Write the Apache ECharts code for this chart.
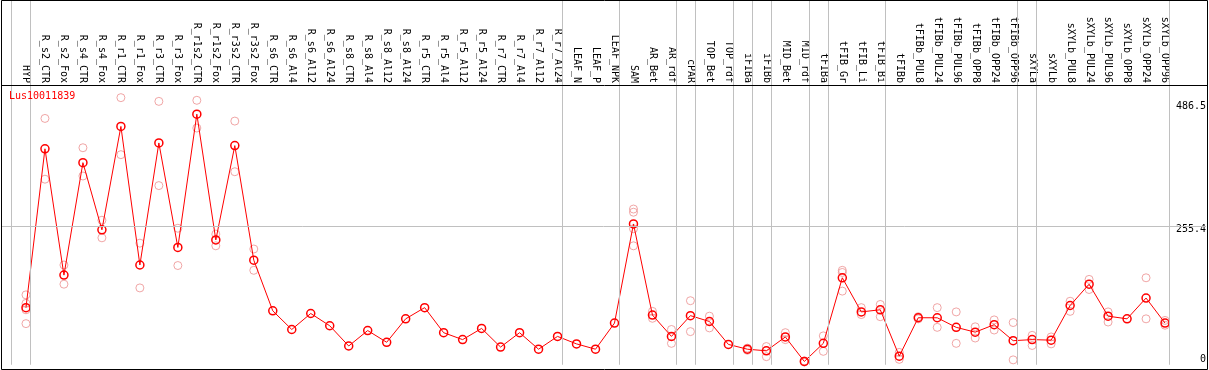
<!DOCTYPE html>
<html><head><meta charset="utf-8">
<script src="https://cdn.jsdelivr.net/npm/echarts@6/dist/echarts.min.js"></script>
<style>html,body{margin:0;padding:0;background:#fff}#c{width:1209px;height:370px}</style>
</head><body><div id="c"></div>
<script>
const geneName = 'Lus10011839';
const categories = ['HYP','R_s2_CTR','R_s2_Fox','R_s4_CTR','R_s4_Fox','R_r1_CTR','R_r1_Fox','R_r3_CTR','R_r3_Fox','R_r1s2_CTR','R_r1s2_Fox','R_r3s2_CTR','R_r3s2_Fox','R_s6_CTR','R_s6_Al4','R_s6_Al12','R_s6_Al24','R_s8_CTR','R_s8_Al4','R_s8_Al12','R_s8_Al24','R_r5_CTR','R_r5_Al4','R_r5_Al12','R_r5_Al24','R_r7_CTR','R_r7_Al4','R_r7_Al12','R_r7_Al24','LEAF_N','LEAF_P','LEAF_NPK','SAM','AR_Bet','AR_rdf','cPAR','TOP_Bet','TOP_rdf','iFIBa','iFIBb','MID_Bet','MID_rdf','tFIBa','tFIB_Gr','tFIB_Li','tFIB_Bi','tFIBb','tFIBb_PUL8','tFIBb_PUL24','tFIBb_PUL96','tFIBb_OPP8','tFIBb_OPP24','tFIBb_OPP96','sXYLa','sXYLb','sXYLb_PUL8','sXYLb_PUL24','sXYLb_PUL96','sXYLb_OPP8','sXYLb_OPP24','sXYLb_OPP96'];
const means = [102,400,163,374,248,442,182,411,215,465,229,406,191,96,61,91,68,30,59,37,81,102,55,42,63,28,55,24,48,34,24,73,259,88,48,87,76,33,24,21,47,1,35,158,94,98,11,83,83,65,56,70,40,42,41,106,146,86,81,120,73];
const replicates = [[126,110,98,72],[457,343],[182,146],[402,349],[266,233],[496,389],[223,139],[489,331],[251,181],[491,439],[240,218],[452,357],[212,172],
 [],[],[],[],[],[],[],[],[],[],[],[],[],[],[],[],[],[],[],
 [287,281,250,218],[95,82],[61,35],[115,57],[86,64],[],[26,22],[29,10],[55,42],[2,0],[49,20],[172,168,133],[102,89],[108,85],[18,5],[85,81],[102,65],[94,35],[66,45],[79,60],[74,4],[50,31],[47,34],[114,95],[155,136],[94,75],[],[158,81],[78,69]];
const yTickValues = [0, 255.4, 486.5];
const yGridValues = [255.4];
const groupEnds = [-1, 0, 28, 31, 34, 35, 37, 38, 39, 41, 42, 45, 52, 53, 60];

const FONT = 'DejaVu Sans Mono';
const chart = echarts.init(document.getElementById('c'), null, {renderer:'canvas'});
const idx = categories.map((_, i) => i);
const repData = [];
replicates.forEach((r, i) => r.forEach(v => repData.push([i, v])));

chart.setOption({
  animation: false,
  backgroundColor: '#fff',
  title: {text: geneName, left: 9, top: 91, padding: 0,
    textStyle: {color: '#ff0000', fontSize: 10, fontWeight: 'normal', fontFamily: FONT}},
  grid: {left: 1, top: 0, width: 1206, height: 369, containLabel: false},
  xAxis: {type: 'value', position: 'top', offset: -85, min: -25/19, max: 1181/19,
    axisLine: {show: false, onZero: false}, axisTick: {show: false}, splitLine: {show: false},
    axisLabel: {customValues: idx, rotate: 90, margin: 2, fontSize: 10, fontFamily: FONT, color: '#000',
      formatter: v => categories[Math.round(v)] || ''}},
  yAxis: {type: 'value', position: 'right', min: -5.2, max: 679.2,
    axisLine: {show: false, onZero: false}, axisTick: {show: false}, splitLine: {show: false},
    axisLabel: {customValues: yTickValues, inside: true, margin: 0, verticalAlign: 'middle',
      fontSize: 10, fontFamily: FONT, color: '#000',
      formatter: v => v === 0 ? '{lo|0}' : '{hi|' + v + '}',
      rich: {lo: {fontSize: 10, fontFamily: FONT, lineHeight: 12, padding: [0,0,6,0]},
             hi: {fontSize: 10, fontFamily: FONT, lineHeight: 12, padding: [7,0,0,0]}}}},
  graphic: [
    {type: 'rect', z: 100, shape: {x: 1.5, y: 0.5, width: 1206, height: 369}, style: {fill: 'none', stroke: '#000', lineWidth: 1}},
    {type: 'line', z: 100, shape: {x1: 1.5, y1: 85.5, x2: 1207.5, y2: 85.5}, style: {stroke: '#000', lineWidth: 1}}
  ],
  series: [
    {type: 'scatter', name: 'grid', data: [], silent: true,
      markLine: {silent: true, symbol: ['none','none'], label: {show: false},
        lineStyle: {color: '#c0c0c0', width: 1, type: 'solid'},
        data: groupEnds.map(g => ({xAxis: g + 4.5/19})).concat(yGridValues.map(v => ({yAxis: v})))}},
    {type: 'scatter', name: 'replicates', data: repData, symbol: 'circle', symbolSize: 8, z: 3,
      itemStyle: {color: 'rgba(0,0,0,0)', borderColor: '#ec9090', borderWidth: 1}},
    {type: 'line', name: 'mean', data: means.map((v, i) => [i, v]), symbol: 'circle', symbolSize: 8,
      showSymbol: true, showAllSymbol: true, z: 4,
      lineStyle: {color: '#ff0000', width: 1},
      itemStyle: {color: 'rgba(0,0,0,0)', borderColor: '#ff0000', borderWidth: 1.5}}
  ]
});
</script></body></html>
